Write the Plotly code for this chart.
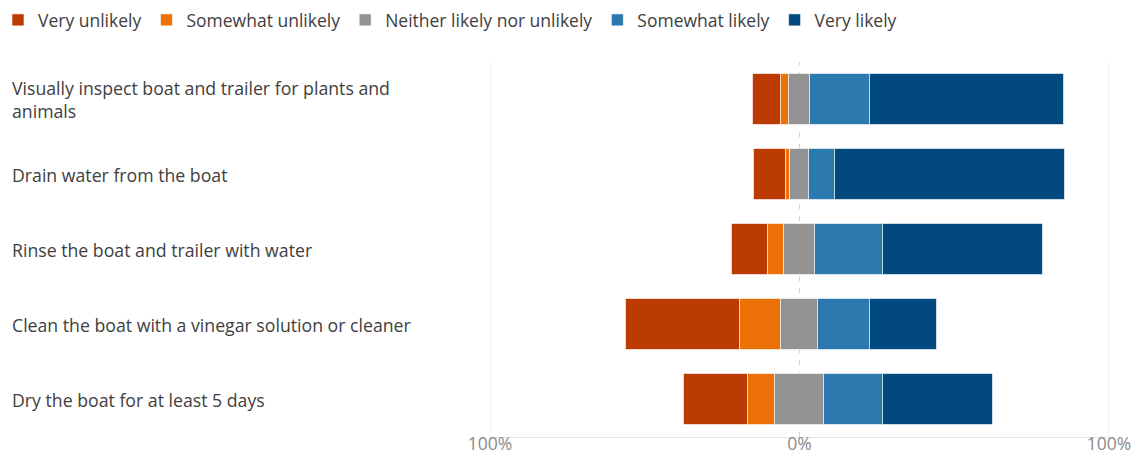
import plotly.graph_objects as go

categories = [
    "Visually inspect boat and trailer for plants and<br>animals",
    "Drain water from the boat",
    "Rinse the boat and trailer with water",
    "Clean the boat with a vinegar solution or cleaner",
    "Dry the boat for at least 5 days",
]
very_unlikely = [9.1, 10.1, 11.5, 36.8, 20.6]
somewhat_unlikely = [2.5, 1.5, 5.2, 13.2, 8.6]
neither = [7.0, 6.0, 9.9, 12.1, 16.0]
somewhat_likely = [19.3, 8.5, 21.9, 16.7, 18.9]
very_likely = [62.6, 74.3, 51.9, 21.6, 35.7]

tick_vals = [-100, 0, 100]
tick_text = ["100%", "0%", "100%"]

colors = {
    "Very unlikely": "#BB3B02",
    "Somewhat unlikely": "#EC7106",
    "Neither likely nor unlikely": "#939393",
    "Somewhat likely": "#2C79B0",
    "Very likely": "#02497F",
}

FONT = "Segoe UI, Open Sans, Noto Sans, sans-serif"

y_idx = list(range(len(categories)))
left = [-(a + b + n / 2) for a, b, n in zip(very_unlikely, somewhat_unlikely, neither)]

series = [
    ("Very unlikely", very_unlikely, left),
    ("Somewhat unlikely", somewhat_unlikely, [l + a for l, a in zip(left, very_unlikely)]),
    ("Neither likely nor unlikely", neither, [-n / 2 for n in neither]),
    ("Somewhat likely", somewhat_likely, [n / 2 for n in neither]),
    ("Very likely", very_likely, [n / 2 + s for n, s in zip(neither, somewhat_likely)]),
]

fig = go.Figure()
for name, vals, base in series:
    fig.add_trace(go.Bar(
        name=name, y=y_idx, x=vals, base=base, orientation="h",
        marker=dict(color=colors[name], line=dict(color="rgba(255,255,255,0.6)", width=1)),
        width=0.667,
    ))

for v in tick_vals:
    fig.add_shape(type="line", xref="x", yref="paper", x0=v, x1=v, y0=0, y1=1,
                  line=dict(color="#d2d2d2" if v == 0 else "#e3e3e3", width=1,
                            dash="5px,7px" if v == 0 else "solid"),
                  layer="below")

for i, c in enumerate(categories):
    fig.add_annotation(text=c, xref="paper", yref="y", x=-480 / 619, y=i,
                       xanchor="left", yanchor="middle", align="left", showarrow=False,
                       font=dict(family=FONT, size=17.7, color="#404040"))

fig.update_layout(
    width=1135, height=456,
    margin=dict(l=490, r=26, t=62, b=19, autoexpand=False),
    barmode="overlay",
    plot_bgcolor="white", paper_bgcolor="white",
    font=dict(family=FONT, size=17.5, color="#404040"),
    showlegend=True,
    legend=dict(orientation="h", x=-492 / 619, xanchor="left", y=(437 - 20) / 375, yanchor="middle",
                font=dict(family=FONT, size=17.5, color="#404040"),
                itemwidth=30, traceorder="normal", bgcolor="rgba(0,0,0,0)"),
    xaxis=dict(range=[-100, 100], tickvals=tick_vals, ticktext=tick_text,
               showgrid=False, zeroline=False, showline=True, linecolor="#e3e3e3", linewidth=1,
               ticklabelstandoff=-9,
               tickfont=dict(family=FONT, size=17.5, color="#8a8a8a")),
    yaxis=dict(range=[4.5, -0.5], showticklabels=False, showgrid=False,
               zeroline=False, showline=False),
    bargap=0,
)

fig.write_html("out.html")
